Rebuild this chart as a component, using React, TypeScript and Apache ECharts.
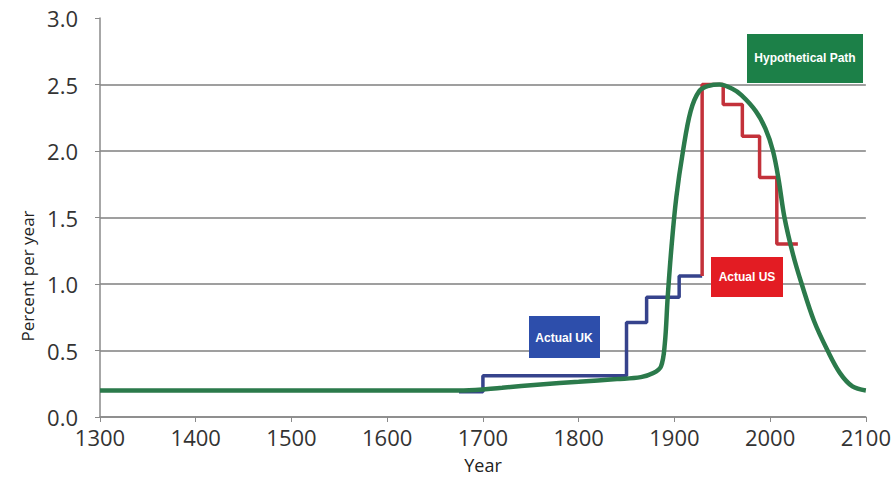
import React, { useEffect, useRef } from "react";
import * as echarts from "echarts";

// Hypothetical path (green)
const pathYears = [1300, 1680, 1720, 1760, 1800, 1840, 1865, 1878, 1886, 1890, 1893, 1897, 1902, 1909, 1917, 1926, 1936, 1947, 1960, 1970, 1985, 1995, 2003, 2009, 2015, 2024, 2033, 2046, 2060, 2073, 2086, 2100];
const pathRates = [0.2, 0.2, 0.22, 0.245, 0.265, 0.285, 0.3, 0.33, 0.38, 0.55, 0.9, 1.28, 1.65, 2.0, 2.3, 2.45, 2.49, 2.5, 2.47, 2.42, 2.3, 2.17, 2.0, 1.78, 1.5, 1.22, 1.0, 0.72, 0.5, 0.33, 0.23, 0.2];

// Actual UK (blue steps)
const ukYears = [1675, 1700, 1850, 1871, 1905, 1929];
const ukRates = [0.19, 0.31, 0.71, 0.9, 1.06, 1.06];

// Actual US (red steps)
const usYears = [1929, 1929, 1951, 1971, 1989, 2007, 2029];
const usRates = [1.06, 2.5, 2.35, 2.11, 1.8, 1.3, 1.3];

const xTicks = { min: 1300, max: 2100, interval: 100 };
const yTicks = { min: 0, max: 3, interval: 0.5 };

const zip = (xs: number[], ys: number[]) => xs.map((x, i) => [x, ys[i]]);

const boxText = (text: string, x: number, y: number) => ({
  type: "text",
  x,
  y,
  z: 11,
  style: {
    text,
    fill: "#ffffff",
    font: "bold 12px 'Liberation Sans', Arial, sans-serif",
    align: "center",
    verticalAlign: "middle",
    textAlign: "center",
    textVerticalAlign: "middle",
  },
});

export default function App() {
  const ref = useRef<HTMLDivElement>(null);
  useEffect(() => {
    if (!ref.current) return;
    const chart = echarts.init(ref.current, null, { renderer: "svg" });
    const font = "Open Sans";
    chart.setOption({
      animation: false,
      backgroundColor: "#ffffff",
      grid: { left: 100, right: 28, top: 18, bottom: 61 },
      xAxis: {
        type: "value",
        min: xTicks.min,
        max: xTicks.max,
        interval: xTicks.interval,
        axisLine: { show: true, lineStyle: { color: "#8a8a8a", width: 1.5 } },
        axisTick: { show: true, length: 5, lineStyle: { color: "#8a8a8a" } },
        splitLine: { show: false },
        axisLabel: {
          fontSize: 22,
          color: "#333",
          fontFamily: font,
          margin: 9,
          formatter: (v: number) => String(v),
        },
      },
      yAxis: {
        type: "value",
        min: yTicks.min,
        max: yTicks.max,
        interval: yTicks.interval,
        axisLine: { show: true, lineStyle: { color: "#8a8a8a", width: 1.5 } },
        axisTick: { show: true, length: 5, lineStyle: { color: "#8a8a8a" } },
        splitLine: { show: true, showMaxLine: false, lineStyle: { color: "#7f7f7f", width: 1.6 } },
        axisLabel: {
          fontSize: 22,
          color: "#333",
          fontFamily: font,
          margin: 22,
          formatter: (v: number) => v.toFixed(1),
        },
      },
      series: [
        {
          name: "Actual UK",
          type: "line",
          step: "end",
          data: zip(ukYears, ukRates),
          symbol: "none",
          lineStyle: { color: "#36438c", width: 3.5 },
          z: 2,
        },
        {
          name: "Actual US",
          type: "line",
          step: "end",
          data: zip(usYears, usRates),
          symbol: "none",
          lineStyle: { color: "#c3313a", width: 3.5 },
          z: 3,
        },
        {
          name: "Hypothetical Path",
          type: "line",
          smooth: 0.35,
          data: zip(pathYears, pathRates),
          symbol: "none",
          lineStyle: { color: "#2b7a4b", width: 4.5 },
          z: 4,
        },
      ],
      graphic: [
        {
          type: "text",
          x: 27,
          y: 276,
          rotation: Math.PI / 2,
          style: {
            text: "Percent per year",
            font: "17px 'Open Sans', sans-serif",
            fill: "#222",
            align: "center",
            verticalAlign: "middle",
            textAlign: "center",
            textVerticalAlign: "middle",
          },
        },
        {
          type: "text",
          x: 483,
          y: 465,
          style: {
            text: "Year",
            font: "18px 'Open Sans', sans-serif",
            fill: "#222",
            align: "center",
            verticalAlign: "middle",
            textAlign: "center",
            textVerticalAlign: "middle",
          },
        },
        {
          type: "rect",
          shape: { x: 747, y: 34, width: 116, height: 49 },
          style: { fill: "#1c8048" },
          z: 10,
        },
        boxText("Hypothetical Path", 805, 58),
        {
          type: "rect",
          shape: { x: 529, y: 316, width: 71, height: 42 },
          style: { fill: "#2d4eab" },
          z: 10,
        },
        boxText("Actual UK", 564, 338),
        {
          type: "rect",
          shape: { x: 711, y: 257, width: 72, height: 40 },
          style: { fill: "#e31c23" },
          z: 10,
        },
        boxText("Actual US", 747, 277),
      ],
    });
    return () => chart.dispose();
  }, []);
  return (
    <div
      ref={ref}
      style={{ position: "fixed", left: 0, top: 0, width: 894, height: 478 }}
    />
  );
}
